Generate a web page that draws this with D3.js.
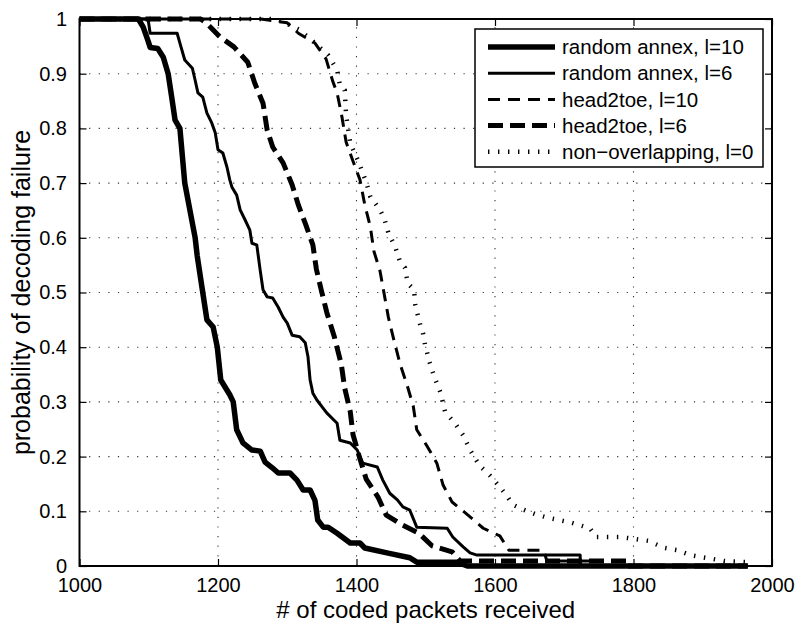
<!DOCTYPE html>
<html>
<head>
<meta charset="utf-8">
<script src="https://cdn.jsdelivr.net/npm/d3@7/dist/d3.min.js"></script>
<style>
  html, body { margin: 0; padding: 0; background: #fff; }
  svg { display: block; font-family: "Liberation Sans", Arial, Helvetica, sans-serif; }
</style>
</head>
<body>
<svg id="chart" width="801" height="627"></svg>
<script>
// ---- data ----
const xTicks = [1000, 1200, 1400, 1600, 1800, 2000];
const yTicks = [0, 0.1, 0.2, 0.3, 0.4, 0.5, 0.6, 0.7, 0.8, 0.9, 1];
const yTickLabels = ["0", "0.1", "0.2", "0.3", "0.4", "0.5", "0.6", "0.7", "0.8", "0.9", "1"];

const seriesNames = ["random annex, l=10", "random annex, l=6", "head2toe, l=10", "head2toe, l=6", "non\u2212overlapping, l=0"];

const randomAnnex10X = [1000,1085,1092,1099,1102,1113,1121,1128,1134,1138,1145,1152,1167,1170,1178,1184,1193,1199,1204,1217,1222,1227,1236,1249,1261,1268,1278,1287,1304,1314,1323,1333,1340,1344,1352,1359,1372,1391,1405,1412,1444,1477,1487,1545,1560,1965];
const randomAnnex10Y = [1,1,0.985,0.96,0.948,0.946,0.93,0.9,0.85,0.815,0.8,0.7,0.6,0.567,0.5,0.45,0.437,0.4,0.34,0.313,0.3,0.249,0.225,0.212,0.21,0.19,0.18,0.17,0.17,0.157,0.139,0.139,0.12,0.084,0.071,0.071,0.06,0.042,0.042,0.033,0.024,0.015,0.007,0.007,0,0];

const randomAnnex6X = [1000,1099,1102,1141,1145,1152,1163,1167,1171,1178,1184,1191,1196,1200,1207,1213,1217,1220,1227,1232,1239,1246,1249,1256,1261,1265,1271,1279,1287,1294,1300,1307,1318,1326,1330,1333,1337,1343,1357,1372,1376,1391,1401,1409,1430,1438,1448,1459,1467,1477,1487,1531,1539,1554,1564,1574,1723,1723,1965];
const randomAnnex6Y = [1,1,0.974,0.974,0.956,0.925,0.91,0.888,0.865,0.857,0.828,0.81,0.792,0.761,0.755,0.729,0.706,0.693,0.678,0.651,0.633,0.614,0.59,0.587,0.54,0.505,0.492,0.49,0.473,0.455,0.444,0.422,0.419,0.408,0.382,0.34,0.316,0.303,0.28,0.261,0.23,0.225,0.212,0.188,0.181,0.157,0.133,0.121,0.108,0.102,0.071,0.069,0.053,0.035,0.024,0.02,0.02,0,0];

const head2toe10X = [1000,1262,1300,1316,1340,1356,1366,1372,1379,1385,1395,1405,1412,1420,1425,1434,1440,1446,1454,1463,1473,1482,1487,1502,1516,1525,1538,1561,1583,1607,1620,1670,1675,1740,1740,1965];
const head2toe10Y = [1,1,0.993,0.974,0.956,0.927,0.885,0.865,0.821,0.775,0.74,0.706,0.66,0.62,0.576,0.539,0.497,0.455,0.413,0.369,0.331,0.292,0.249,0.219,0.188,0.148,0.117,0.093,0.069,0.055,0.029,0.029,0.009,0.009,0,0];

const head2toe6X = [1000,1175,1183,1203,1223,1243,1253,1265,1271,1279,1294,1307,1316,1327,1337,1342,1349,1357,1368,1378,1383,1391,1395,1404,1414,1431,1443,1466,1490,1509,1538,1550,1790,1790,1965];
const head2toe6Y = [1,1,0.993,0.967,0.949,0.921,0.883,0.846,0.797,0.766,0.737,0.697,0.66,0.623,0.587,0.543,0.505,0.464,0.419,0.369,0.325,0.282,0.24,0.2,0.159,0.126,0.093,0.075,0.06,0.037,0.026,0.009,0.009,0,0];

const nonOverlapX = [1000,1285,1318,1340,1359,1372,1376,1383,1385,1391,1402,1414,1420,1434,1440,1446,1456,1463,1470,1474,1483,1485,1492,1496,1499,1506,1512,1521,1528,1542,1554,1564,1578,1593,1606,1616,1626,1639,1658,1677,1711,1737,1746,1781,1821,1845,1863,1882,1900,1932,1964,1971];
const nonOverlapY = [1,1,0.98,0.956,0.934,0.907,0.879,0.87,0.824,0.773,0.742,0.702,0.675,0.651,0.636,0.609,0.583,0.556,0.545,0.517,0.505,0.477,0.441,0.426,0.404,0.371,0.347,0.318,0.282,0.261,0.239,0.212,0.183,0.165,0.146,0.13,0.112,0.104,0.095,0.088,0.079,0.069,0.053,0.053,0.046,0.033,0.029,0.02,0.016,0.009,0.007,0];

// ---- layout ----
const svg = d3.select("#chart");
const L = 79.5, R = 772, T = 19, B = 566;
const x = d3.scaleLinear().domain([1000, 2000]).range([L, R]);
const y = d3.scaleLinear().domain([0, 1]).range([B, T]);

const styles = [
  { w: 5.5, dash: null },
  { w: 3, dash: null },
  { w: 3, dash: "12,8" },
  { w: 5, dash: "15,7" },
  { w: 4.5, dash: "1.4,8.6" }
];
const seriesX = [randomAnnex10X, randomAnnex6X, head2toe10X, head2toe6X, nonOverlapX];
const seriesY = [randomAnnex10Y, randomAnnex6Y, head2toe10Y, head2toe6Y, nonOverlapY];

// grid
const grid = svg.append("g").attr("stroke", "#333").attr("stroke-width", 1.1).attr("stroke-dasharray", "1.2,8.4");
grid.selectAll(".gx").data(xTicks.slice(1, -1)).join("line")
  .attr("x1", d => x(d)).attr("x2", d => x(d)).attr("y1", B).attr("y2", T);
grid.selectAll(".gy").data(yTicks.slice(1, -1)).join("line")
  .attr("y1", d => y(d)).attr("y2", d => y(d)).attr("x1", L).attr("x2", R);

// series
const line = d3.line().x(d => x(d[0])).y(d => y(d[1]));
const plot = svg.append("g");
seriesX.forEach((xs, i) => {
  const pts = xs.map((v, j) => [v, seriesY[i][j]]);
  plot.append("path")
    .attr("d", line(pts))
    .attr("fill", "none")
    .attr("stroke", "#000")
    .attr("stroke-width", styles[i].w)
    .attr("stroke-linejoin", i === 4 ? "miter" : "round")
    .attr("stroke-dasharray", styles[i].dash);
});

// axes
const fs = 20;
const axB = svg.append("g").attr("transform", `translate(0,${B})`)
  .call(d3.axisBottom(x).tickValues(xTicks).tickSize(-7).tickPadding(12).tickFormat(d3.format("d")));
const axT = svg.append("g").attr("transform", `translate(0,${T})`)
  .call(d3.axisTop(x).tickValues(xTicks).tickSize(-7).tickFormat(""));
const axL = svg.append("g").attr("transform", `translate(${L},0)`)
  .call(d3.axisLeft(y).tickValues(yTicks).tickSize(-7).tickPadding(12.5).tickFormat((d, i) => yTickLabels[i]));
const axR = svg.append("g").attr("transform", `translate(${R},0)`)
  .call(d3.axisRight(y).tickValues(yTicks).tickSize(-7).tickFormat(""));
[axB, axT, axL, axR].forEach(a => {
  a.select(".domain").remove();
  a.selectAll(".tick line").attr("stroke", "#000").attr("stroke-width", 1.2);
  a.selectAll("text").attr("fill", "#000").style("font-size", fs + "px")
    .style("font-family", "'Liberation Sans', Arial, sans-serif");
});

// frame
svg.append("rect").attr("x", L).attr("y", T).attr("width", R - L).attr("height", B - T)
  .attr("fill", "none").attr("stroke", "#000").attr("stroke-width", 2);

// axis labels
svg.append("text").attr("x", (L + R) / 2).attr("y", 618)
  .attr("text-anchor", "middle").style("font-size", "24px").attr("fill", "#000")
  .text("# of coded packets received");
svg.append("text").attr("transform", `translate(30,${(T + B) / 2}) rotate(-90)`)
  .attr("text-anchor", "middle").style("font-size", "25px").attr("fill", "#000")
  .text("probability of decoding failure");

// legend
const lg = svg.append("g");
lg.append("rect").attr("x", 475).attr("y", 29).attr("width", 288).attr("height", 138)
  .attr("fill", "#fff").attr("stroke", "#000").attr("stroke-width", 1.5);
seriesNames.forEach((name, i) => {
  const cy = 47 + i * 26.2;
  lg.append("line").attr("x1", 488).attr("x2", 555).attr("y1", cy).attr("y2", cy)
    .attr("stroke", "#000").attr("stroke-width", styles[i].w)
    .attr("stroke-dasharray", styles[i].dash);
  lg.append("text").attr("x", 562).attr("y", cy).attr("dy", "0.35em")
    .style("font-size", "20.5px").attr("fill", "#000").text(name);
});
</script>
</body>
</html>
